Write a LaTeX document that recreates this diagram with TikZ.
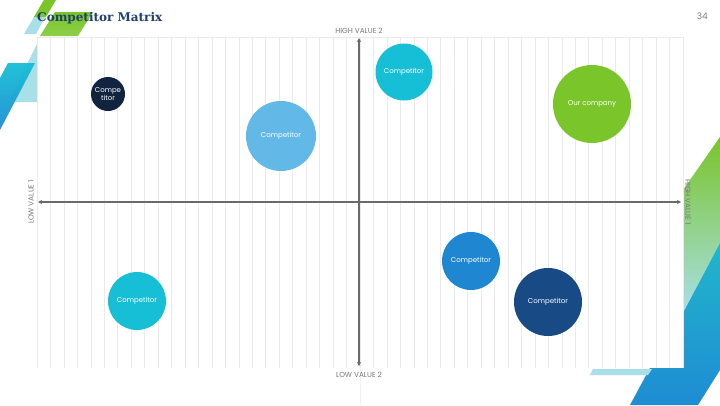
\documentclass[tikz,border=0pt]{standalone}
\usepackage{fontspec}
\setmainfont{Poppins}
\newfontfamily\titlefont{DejaVu Serif}
\usetikzlibrary{arrows.meta}
\definecolor{cnavy}{HTML}{10233F}
\definecolor{clight}{HTML}{62B9E8}
\definecolor{ccyan}{HTML}{16BFD6}
\definecolor{cgreen}{HTML}{7AC52A}
\definecolor{cblue}{HTML}{1F87D1}
\definecolor{cdark}{HTML}{184A86}
\definecolor{ctitle}{HTML}{1F3F6E}
\definecolor{caxis}{HTML}{6A6A6A}
\definecolor{cgrid}{HTML}{EBEBEB}
\definecolor{cpale}{HTML}{A8DFE8}
\definecolor{cteal}{HTML}{22B6CB}
\definecolor{cdeco}{HTML}{1E8CD4}
\begin{document}
\begin{tikzpicture}[x=1pt,y=-1pt,
  bubble/.style={circle,inner sep=0pt,text=white,font=\fontsize{7}{8}\selectfont,align=center},
  axislabel/.style={text=caxis!90,font=\fontsize{7.3}{8.5}\selectfont,inner sep=0pt},
  axisline/.style={caxis,line width=1.4pt,{Stealth[length=4pt,width=4pt]}-{Stealth[length=4pt,width=4pt]}}]
\useasboundingbox (0,0) rectangle (720,405);
\fill[white] (0,0) rectangle (720,405);
% --- decorations top left
\fill[cpale] (24,34) -- (44,0) -- (54,0) -- (36,34) -- cycle;
\fill[cgreen] (44,0) -- (56,0) -- (46,17) -- (34,17) -- cycle;
\shade[top color=cgreen, bottom color=cgreen!85!white] (40,36) -- (78,36) -- (93,12) -- (55,12) -- cycle;
% --- decorations left
\fill[cpale] (37,44) -- (37,102) -- (8,102) -- cycle;
\shade[top color=ccyan, bottom color=cdeco, opacity=0.95] (8,63) -- (35,63) -- (0,130) -- (0,78) -- cycle;
% --- decorations right
\shade[top color=cgreen, bottom color=cpale] (720,137) -- (683,190) -- (683,313) -- (720,243) -- cycle;
\shade[top color=cteal, bottom color=cdeco] (720,243) -- (683,313) -- (683,368) -- (650,368) -- (630,405) -- (698,405) -- (720,370) -- cycle;
\fill[cpale] (590,375) -- (593,369) -- (652,369) -- (648,375) -- cycle;
% --- panel
\fill[white] (37,37) rectangle (683,368);
\foreach \i in {0,...,48} {
  \draw[cgrid,line width=0.6pt] ({37+\i*13.4583},37) -- ({37+\i*13.4583},368);
}
\draw[cgrid,line width=0.6pt] (37,37) -- (683,37);
\draw[gray!12,line width=0.6pt] (360,368) -- (360,405);
% --- axes
\coordinate (L) at (38,202);
\coordinate (R) at (681,202);
\coordinate (T) at (359,38);
\coordinate (B) at (359,366);
\draw[axisline] (L) -- (R);
\draw[axisline] (B) -- (T);
\node[axislabel] (hv2) at (359,31) {HIGH VALUE 2};
\node[axislabel] (lv2) at (359,375) {LOW VALUE 2};
\node[axislabel,rotate=90] (lv1) at (31,202) {LOW VALUE 1};
\node[axislabel,rotate=-90] (hv1) at (688,202) {HIGH VALUE 1};
% --- title and page number
\node[anchor=base west,inner sep=0pt,text=ctitle,font=\titlefont\bfseries\fontsize{12}{14}\selectfont] (title) at (37,21) {Competitor Matrix};
\node[anchor=base east,inner sep=0pt,text=gray,font=\fontsize{9}{10}\selectfont] (page) at (708,19) {34};
% --- bubbles
\node[bubble,fill=cnavy,minimum size=34pt] (c1) at (108,94) {Compe\\titor};
\node[bubble,fill=clight,minimum size=70pt] (c2) at (281,136) {Competitor};
\node[bubble,fill=ccyan,minimum size=57pt] (c3) at (404,72) {Competitor};
\node[bubble,fill=cgreen,minimum size=78pt] (c4) at (592,104) {Our company};
\node[bubble,fill=ccyan,minimum size=58pt] (c5) at (137,301) {Competitor};
\node[bubble,fill=cblue,minimum size=58pt] (c6) at (471,261) {Competitor};
\node[bubble,fill=cdark,minimum size=68pt] (c7) at (548,302) {Competitor};
\end{tikzpicture}
\end{document}
